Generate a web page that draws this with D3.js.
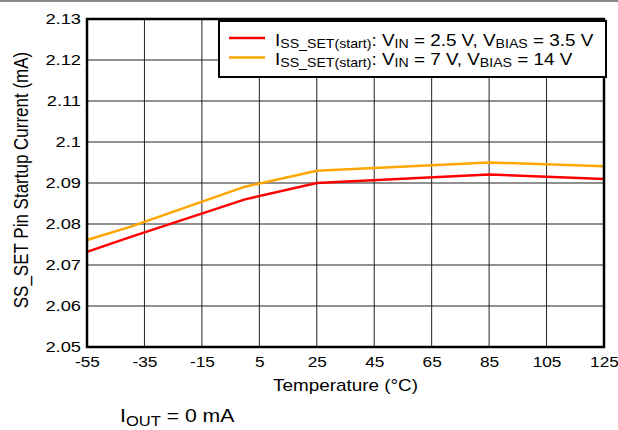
<!DOCTYPE html>
<html><head><meta charset="utf-8">
<script src="https://cdn.jsdelivr.net/npm/d3@7"></script>
<style>body{margin:0;background:#fff}svg{display:block;font-family:"Liberation Sans",Arial,sans-serif}</style>
</head><body><svg id="c" width="618" height="430"></svg>
<script>
const temps = [-55, -40, 0, 25, 85, 125];
const serRed = [2.0732, 2.0768, 2.0860, 2.0900, 2.0921, 2.0910];
const serOrange = [2.0761, 2.0793, 2.0891, 2.0930, 2.0950, 2.0941];
const xTicks = [-55, -35, -15, 5, 25, 45, 65, 85, 105, 125];
const yTicks = [2.05, 2.06, 2.07, 2.08, 2.09, 2.1, 2.11, 2.12, 2.13];

const SX = 1.18;
const FF = "Liberation Sans, Arial, sans-serif";
function stretch(sel, ax, ay, s){
  sel.attr("transform", `translate(${ax},${ay}) scale(${s||SX},1) translate(${-ax},${-ay})`);
}

const svg = d3.select("#c");
const L = 87, R = 604, T = 19, B = 347;
const x = d3.scaleLinear().domain([-55, 125]).range([L, R]);
const y = d3.scaleLinear().domain([2.05, 2.13]).range([B, T]);

svg.append("line").attr("x1",0).attr("x2",618).attr("y1",1).attr("y2",1).attr("stroke","#888").attr("stroke-width",2);

const g = svg.append("g");
g.selectAll(".vg").data(xTicks).enter().append("line")
  .attr("x1",d=>x(d)).attr("x2",d=>x(d)).attr("y1",T).attr("y2",B)
  .attr("stroke","#222").attr("stroke-width",1);
g.selectAll(".hg").data(yTicks).enter().append("line")
  .attr("x1",L).attr("x2",R).attr("y1",d=>y(d)).attr("y2",d=>y(d))
  .attr("stroke","#222").attr("stroke-width",1);

const xAxis = svg.append("g").attr("transform",`translate(0,${B})`)
  .call(d3.axisBottom(x).tickValues(xTicks).tickSize(0).tickPadding(9).tickFormat(d=>String(d)));
xAxis.select(".domain").remove();
xAxis.selectAll("text").attr("font-size",15).attr("fill","#000").attr("font-family",FF)
  .each(function(){ stretch(d3.select(this), 0, 0, 1.15); });

const yAxis = svg.append("g").attr("transform",`translate(${L},0)`)
  .call(d3.axisLeft(y).tickValues(yTicks).tickSize(0).tickPadding(6).tickFormat(d=>String(+d.toFixed(2))));
yAxis.select(".domain").remove();
yAxis.selectAll("text").attr("font-size",15.5).attr("fill","#000").attr("font-family",FF)
  .each(function(){ stretch(d3.select(this), -6, 0); });

const line = d3.line().x((d,i)=>x(temps[i])).y(d=>y(d));
svg.append("path").datum(serOrange).attr("d",line).attr("fill","none").attr("stroke","#ffa500").attr("stroke-width",2.5);
svg.append("path").datum(serRed).attr("d",line).attr("fill","none").attr("stroke","#ff0000").attr("stroke-width",2.5);

svg.append("rect").attr("x",L).attr("y",T).attr("width",R-L).attr("height",B-T)
  .attr("fill","none").attr("stroke","#000").attr("stroke-width",2.5);

// legend
const lg = svg.append("g");
lg.append("rect").attr("x",219).attr("y",21).attr("width",387).attr("height",56)
  .attr("fill","#fff").attr("stroke","#000").attr("stroke-width",2);
const legend = [
  {c:"#ff0000", vin:"2.5 V", vb:"3.5 V"},
  {c:"#ffa500", vin:"7 V", vb:"14 V"}
];
legend.forEach((d,i)=>{
  const yy = 38 + i*19.5;
  lg.append("line").attr("x1",229).attr("x2",265).attr("y1",yy).attr("y2",yy).attr("stroke",d.c).attr("stroke-width",2.5);
  const t = lg.append("text").attr("x",275).attr("y",yy+8).attr("font-size",16).attr("fill","#000");
  t.append("tspan").text("I");
  t.append("tspan").attr("font-size",12).attr("dy",2).text("SS_SET(start)");
  t.append("tspan").attr("dy",-2).text(": V");
  t.append("tspan").attr("font-size",12).attr("dy",2).text("IN");
  t.append("tspan").attr("dy",-2).text(" = " + d.vin + ", V");
  t.append("tspan").attr("font-size",12).attr("dy",2).text("BIAS");
  t.append("tspan").attr("dy",-2).text(" = " + d.vb);
  stretch(t, 275, 0);
});

const xt = svg.append("text").attr("x",(L+R)/2).attr("y",391).attr("text-anchor","middle").attr("font-size",16).text("Temperature (°C)");
stretch(xt, (L+R)/2, 0);
svg.append("text").attr("transform",`translate(28,${(T+B)/2-3}) rotate(-90) scale(1,${SX})`).attr("text-anchor","middle").attr("font-size",17).text("SS_SET Pin Startup Current (mA)");

const io = svg.append("text").attr("x",120).attr("y",422).attr("font-size",18);
io.append("tspan").text("I");
io.append("tspan").attr("font-size",14).attr("dy",4).text("OUT");
io.append("tspan").attr("dy",-4).text(" = 0 mA");
stretch(io, 120, 0);
</script></body></html>
